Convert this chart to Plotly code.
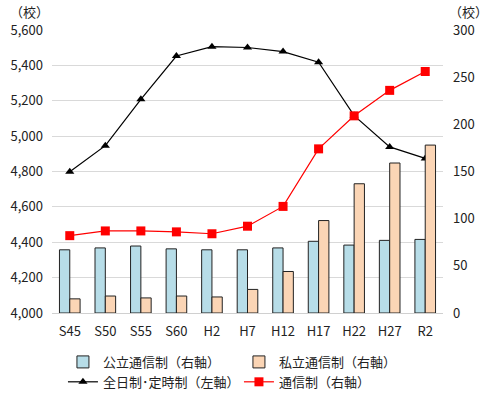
import plotly.graph_objects as go

categories = ["S45", "S50", "S55", "S60", "H2", "H7", "H12", "H17", "H22", "H27", "R2"]
public_corr = [67, 69, 71, 68, 67, 67, 69, 76, 72, 77, 78]
private_corr = [15, 18, 16, 18, 17, 25, 44, 98, 137, 159, 178]
fulltime_parttime = [4798, 4946, 5208, 5453, 5506, 5501, 5478, 5418, 5116, 4939, 4874]
correspondence = [82, 87, 87, 86, 84, 92, 113, 174, 209, 236, 256]

left_ticks = [4000, 4200, 4400, 4600, 4800, 5000, 5200, 5400, 5600]
right_ticks = [0, 50, 100, 150, 200, 250, 300]

FONT = "Noto Sans CJK JP"
fig = go.Figure()
fig.add_trace(go.Bar(x=categories, y=public_corr, name="公立通信制（右軸）", yaxis="y2",
                     marker=dict(color="#B7DDE8", line=dict(color="#222222", width=1))))
fig.add_trace(go.Bar(x=categories, y=private_corr, name="私立通信制（右軸）", yaxis="y2",
                     marker=dict(color="#FBD5B5", line=dict(color="#222222", width=1))))
fig.add_trace(go.Scatter(x=categories, y=fulltime_parttime, name="全日制･定時制（左軸）", mode="lines+markers",
                         line=dict(color="black", width=1.2),
                         marker=dict(symbol="triangle-up", size=8, color="black")))
fig.add_trace(go.Scatter(x=categories, y=correspondence, name="通信制（右軸）", yaxis="y2", mode="lines+markers",
                         line=dict(color="#FF0000", width=1.2),
                         marker=dict(symbol="square", size=9, color="#FF0000")))

fig.update_layout(
    width=490, height=393,
    margin=dict(l=52, r=47, t=30, b=80, autoexpand=False),
    paper_bgcolor="white", plot_bgcolor="white",
    font=dict(family=FONT, size=12, color="#333333"),
    barmode="group", bargap=0.42, bargroupgap=0,
    xaxis=dict(range=[-0.5, len(categories) - 0.5], showgrid=False, showline=True,
               linecolor="#D0D0D0", ticks="",
               ticklabelstandoff=6, tickfont=dict(size=13, color="#222222")),
    yaxis=dict(range=[4000, 5600], tickvals=left_ticks, tickformat=",d",
               showgrid=True, gridcolor="#D9D9D9", zeroline=False, ticklabelstandoff=8,
               tickfont=dict(size=13, color="#222222")),
    yaxis2=dict(range=[0, 300], tickvals=right_ticks, overlaying="y", side="right",
                showgrid=False, zeroline=False, ticklabelstandoff=9,
                tickfont=dict(size=13, color="#222222")),
    legend=dict(orientation="h", x=0.028, xanchor="left", y=-0.12, yanchor="top",
                entrywidth=131, entrywidthmode="pixels", font=dict(size=13, color="#222222"),
                traceorder="normal", itemwidth=30, tracegroupgap=0),
    showlegend=True,
    annotations=[
        dict(text="（校）", xref="paper", yref="paper", x=-0.113, y=1.064, xanchor="left", yanchor="middle",
             showarrow=False, font=dict(size=13, color="#222222")),
        dict(text="（校）", xref="paper", yref="paper", x=1.01, y=1.064, xanchor="left", yanchor="middle",
             showarrow=False, font=dict(size=13, color="#222222")),
    ],
)
fig.write_html("out.html", config={"displayModeBar": False},
               post_script="document.body.style.margin='0px';document.body.style.overflow='hidden';")
